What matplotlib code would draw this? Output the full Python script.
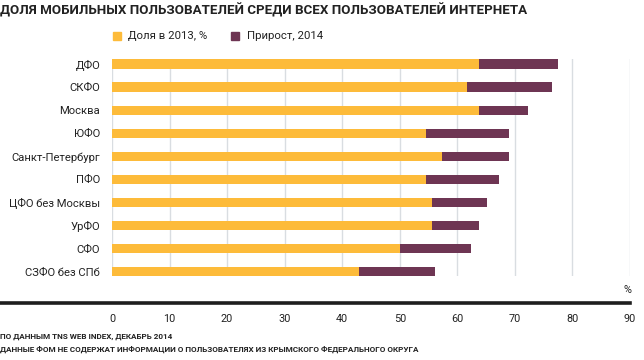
import matplotlib
matplotlib.use("Agg")
import matplotlib.pyplot as plt
from matplotlib.patches import Rectangle
from matplotlib.lines import Line2D

plt.rcParams['font.family'] = ['Roboto', 'DejaVu Sans']

categories = ["ДФО", "СКФО", "Москва", "ЮФО", "Санкт-Петербург", "ПФО",
              "ЦФО без Москвы", "УрФО", "СФО", "СЗФО без СПб"]
share_2013 = [63.8, 61.7, 63.8, 54.5, 57.3, 54.5, 55.6, 55.6, 50.0, 42.9]
total_2014 = [77.5, 76.4, 72.3, 68.9, 68.9, 67.2, 65.1, 63.8, 62.4, 56.2]
growth_2014 = [t - s for t, s in zip(total_2014, share_2013)]
xticks = [0, 10, 20, 30, 40, 50, 60, 70, 80, 90]

title = "ДОЛЯ МОБИЛЬНЫХ ПОЛЬЗОВАТЕЛЕЙ СРЕДИ ВСЕХ ПОЛЬЗОВАТЕЛЕЙ ИНТЕРНЕТА"
legend_labels = ["Доля в 2013, %", "Прирост, 2014"]
notes = ["ПО ДАННЫМ TNS WEB INDEX, ДЕКАБРЬ 2014",
         "ДАННЫЕ ФОМ НЕ СОДЕРЖАТ ИНФОРМАЦИИ О ПОЛЬЗОВАТЕЛЯХ ИЗ КРЫМСКОГО ФЕДЕРАЛЬНОГО ОКРУГА"]

YELLOW = "#FDBB3A"
PURPLE = "#6E3553"
TEXT = "#222222"
GRID = "#D9DDE1"

W, H = 644, 360
fig = plt.figure(figsize=(W / 100, H / 100), dpi=100)

def fx(px):
    return px / W

def fy(py):
    return 1 - py / H

ax = fig.add_axes([fx(112), fy(276), fx(630) - fx(112), fy(59) - fy(276)])
y = list(range(len(categories)))
ax.barh(y, share_2013, height=0.4, color=YELLOW, zorder=3)
ax.barh(y, growth_2014, left=share_2013, height=0.4, color=PURPLE, zorder=3)
ax.set_xlim(0, 90)
ax.set_ylim(9.19, -0.217)
ax.set_xticks(xticks)
ax.set_xticklabels([str(v) for v in xticks], fontsize=7.8, color=TEXT)
ax.set_yticks(y)
ax.set_yticklabels(categories, fontsize=8.1, color=TEXT)
ax.tick_params(axis='x', length=0, pad=27)
ax.tick_params(axis='y', length=0, pad=8.5)
for s in ax.spines.values():
    s.set_visible(False)
ax.grid(axis='x', color=GRID, linewidth=1, zorder=0)
ax.set_axisbelow(True)

# thick baseline
fig.add_artist(Line2D([0, fx(630)], [fy(302.5), fy(302.5)], color="#1e1e1e", linewidth=2.6))
fig.text(fx(631), fy(290), "%", ha='right', va='center', fontsize=7.8, color=TEXT)

# title
fig.text(fx(0.5), fy(10.5), title, ha='left', va='center', fontsize=9.6,
         fontweight='bold', color=TEXT)

# legend
fig.add_artist(Rectangle((fx(113), fy(39.5)), fx(7.5), fy(32) - fy(39.5), color=YELLOW,
                         transform=fig.transFigure))
fig.text(fx(128), fy(36), legend_labels[0], ha='left', va='center', fontsize=8.2, color=TEXT)
fig.add_artist(Rectangle((fx(231), fy(39.5)), fx(7.5), fy(32) - fy(39.5), color=PURPLE,
                         transform=fig.transFigure))
fig.text(fx(247), fy(36), legend_labels[1], ha='left', va='center', fontsize=8.2, color=TEXT)

# notes
fig.text(fx(0.5), fy(337), notes[0], ha='left', va='center', fontsize=5.9, color=TEXT,
         fontweight='bold')
fig.text(fx(0.5), fy(349.5), notes[1], ha='left', va='center', fontsize=5.9, color=TEXT,
         fontweight='bold')

fig.savefig("out.png", dpi=100, facecolor="white")
